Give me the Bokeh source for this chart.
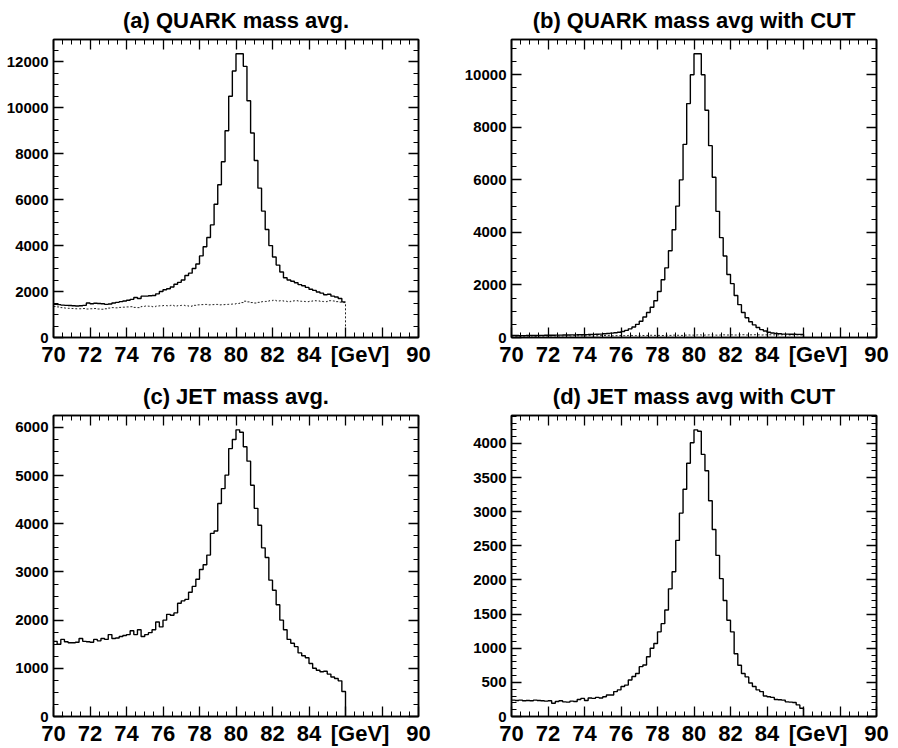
import numpy as np
from bokeh.plotting import figure
from bokeh.models import FixedTicker, LinearAxis, Range1d
from bokeh.layouts import gridplot
from bokeh.embed import file_html
from bokeh.resources import INLINE

# bin edges of the mass histograms [GeV]
mass_edges = np.linspace(70.0, 86.0, 81)

# (a) QUARK mass avg. (main) and its lower (background) curve
quark_avg = [1450, 1430, 1410, 1400, 1390, 1380, 1370, 1380, 1400, 1500,
             1470, 1490, 1480, 1470, 1440, 1460, 1500, 1530, 1560, 1590,
             1620, 1660, 1740, 1700, 1800, 1800, 1820, 1830, 1900, 2000,
             2080, 2120, 2200, 2320, 2400, 2500, 2700, 2800, 3000, 3200,
             3550, 3950, 4350, 4900, 5800, 6650, 7650, 9000, 10500, 11600,
             12350, 12350, 11800, 10300, 8900, 7700, 6500, 5500, 4700, 4000,
             3500, 3150, 2850, 2600, 2500, 2450, 2380, 2300, 2250, 2180,
             2100, 2050, 1980, 1930, 1860, 1880, 1800, 1760, 1700, 1550]
quark_avg_bkg = [1350, 1330, 1300, 1280, 1270, 1260, 1250, 1250, 1260, 1240,
                 1250, 1260, 1240, 1230, 1250, 1280, 1300, 1290, 1310, 1320,
                 1330, 1340, 1310, 1300, 1350, 1370, 1360, 1340, 1370, 1380,
                 1390, 1380, 1400, 1370, 1390, 1400, 1380, 1360, 1400, 1420,
                 1430, 1440, 1420, 1430, 1440, 1420, 1430, 1440, 1450, 1460,
                 1480, 1520, 1580, 1550, 1520, 1500, 1530, 1560, 1570, 1600,
                 1620, 1590, 1600, 1580, 1560, 1590, 1600, 1580, 1570, 1560,
                 1580, 1600, 1590, 1570, 1560, 1600, 1590, 1560, 1540, 1520]

# (b) QUARK mass avg with CUT
quark_cut = [80, 75, 70, 70, 75, 80, 75, 80, 80, 85,
             85, 85, 90, 90, 95, 95, 100, 100, 105, 105,
             110, 115, 120, 125, 130, 140, 150, 165, 180, 200,
             230, 270, 330, 400, 500, 620, 780, 950, 1150, 1400,
             1750, 2200, 2650, 3300, 4100, 5000, 6000, 7350, 8900, 10000,
             10800, 10800, 10000, 8650, 7300, 6100, 4800, 3800, 3100, 2400,
             2050, 1600, 1250, 950, 750, 600, 480, 380, 300, 250,
             200, 170, 150, 140, 130, 130, 125, 125, 120, 120]
quark_cut_bkg = [60, 55, 50, 55, 60, 55, 50, 60, 55, 60,
                 60, 65, 60, 55, 60, 65, 60, 70, 65, 60,
                 65, 70, 60, 65, 70, 75, 70, 65, 70, 75,
                 70, 75, 80, 75, 70, 80, 75, 80, 85, 80,
                 80, 75, 85, 80, 90, 85, 80, 90, 95, 90,
                 95, 100, 90, 95, 100, 95, 90, 95, 100, 95,
                 100, 95, 100, 105, 95, 100, 105, 100, 95, 100,
                 105, 100, 95, 100, 105, 100, 95, 100, 100, 95]

# (c) JET mass avg.
jet_avg = [1560, 1500, 1600, 1550, 1530, 1530, 1540, 1620, 1560, 1550,
           1540, 1600, 1570, 1620, 1600, 1700, 1620, 1630, 1660, 1680,
           1700, 1780, 1700, 1800, 1660, 1700, 1740, 1800, 1960, 1860,
           2000, 2120, 2100, 2150, 2350, 2400, 2430, 2580, 2700, 2850,
           3050, 3150, 3350, 3800, 3850, 4420, 4730, 5010, 5560, 5750,
           5950, 5900, 5600, 5300, 4800, 4320, 3970, 3500, 3300, 2830,
           2620, 2320, 2000, 1800, 1600, 1520, 1450, 1320, 1260, 1220,
           1100, 1000, 960, 930, 940, 880, 820, 790, 740, 520]

# (d) JET mass avg with CUT
jet_cut = [240, 235, 240, 230, 235, 230, 240, 235, 230, 225,
           230, 195, 220, 230, 215, 210, 225, 220, 250, 265,
           235, 270, 265, 280, 270, 290, 315, 316, 365, 390,
           440, 460, 535, 585, 630, 730, 755, 875, 1000, 1070,
           1240, 1360, 1560, 1870, 2120, 2580, 2980, 3330, 3710, 4010,
           4200, 4180, 3840, 3600, 3160, 2740, 2360, 2020, 1700, 1410,
           1240, 920, 750, 630, 580, 490, 440, 390, 365, 300,
           290, 280, 250, 245, 240, 215, 210, 205, 170, 120]

titles = ["(a) QUARK mass avg.", "(b) QUARK mass avg with CUT",
          "(c) JET mass avg.", "(d) JET mass avg with CUT"]
x_tick_marks = [70, 72, 74, 76, 78, 80, 82, 84, 86, 88, 90]
x_label_ticks = [70, 72, 74, 76, 78, 80, 82, 84, 86.8, 90]
x_label_overrides = {86.8: "[GeV]"}

FONT = "Liberation Sans"


def style_ticks(ax):
    ax.major_tick_in = 10
    ax.major_tick_out = 0
    ax.minor_tick_in = 5
    ax.minor_tick_out = 0
    ax.axis_line_color = "black"
    ax.axis_line_width = 1.5
    ax.major_tick_line_color = "black"
    ax.major_tick_line_width = 1.3
    ax.minor_tick_line_color = "black"
    ax.minor_tick_line_width = 1.0


def hide_labels(ax):
    ax.major_label_text_color = None
    ax.major_label_text_font_size = "0px"
    ax.major_label_standoff = 0


def style_labels(ax, font_size, standoff):
    ax.major_label_text_font = FONT
    ax.major_label_text_font_style = "bold"
    ax.major_label_text_color = "black"
    ax.major_label_text_font_size = font_size
    ax.major_label_standoff = standoff


def make_panel(title, main, y_step, y_minor, width, height, borders,
               bkg=None, main_drop=True):
    left, right, top, bottom = borders
    ymax = 1.05 * max(main)
    p = figure(width=width, height=height, output_backend="svg",
               toolbar_location=None, x_range=Range1d(70, 90),
               y_range=Range1d(0, ymax),
               min_border_left=left, min_border_right=right,
               min_border_top=top, min_border_bottom=bottom)
    p.title.text = title
    p.title.align = "center"
    p.title.vertical_align = "top"
    p.title.text_font = FONT
    p.title.text_font_style = "bold"
    p.title.text_font_size = "22px"
    p.title.text_color = "black"
    p.title.standoff = 10
    p.grid.visible = False
    p.outline_line_color = "black"
    p.outline_line_width = 1.5
    p.background_fill_color = "white"
    p.border_fill_color = "white"

    xt = FixedTicker(ticks=x_tick_marks,
                     minor_ticks=list(np.arange(70, 90.01, 0.5)))
    yt = FixedTicker(ticks=list(np.arange(0, ymax, y_step)),
                     minor_ticks=list(np.arange(0, ymax, y_minor)))

    # bottom: tick marks only (closest to frame)
    p.xaxis.ticker = xt
    style_ticks(p.xaxis[0])
    hide_labels(p.xaxis[0])
    # bottom: labels only
    lab_ax = LinearAxis(ticker=FixedTicker(ticks=x_label_ticks, minor_ticks=[]),
                        major_label_overrides=x_label_overrides)
    lab_ax.axis_line_color = None
    lab_ax.major_tick_line_color = None
    lab_ax.minor_tick_line_color = None
    lab_ax.major_tick_in = 0
    lab_ax.major_tick_out = 0
    style_labels(lab_ax, "22px", 4)
    p.add_layout(lab_ax, "below")

    p.yaxis.ticker = yt
    style_ticks(p.yaxis[0])
    style_labels(p.yaxis[0], "15px", 5)

    top_ax = LinearAxis(ticker=xt)
    style_ticks(top_ax)
    hide_labels(top_ax)
    p.add_layout(top_ax, "above")
    right_ax = LinearAxis(ticker=yt)
    style_ticks(right_ax)
    hide_labels(right_ax)
    p.add_layout(right_ax, "right")

    if bkg is not None:
        p.step(mass_edges, list(bkg) + [0], mode="after",
               line_color="#222222", line_width=1.0, line_dash="2 2")
    end = [0] if main_drop else [main[-1]]
    p.step(mass_edges, list(main) + end, mode="after",
           line_color="black", line_width=1.4)
    return p


pa = make_panel(titles[0], quark_avg, 2000, 500, 448, 370, (53, 30, 39, 32),
                bkg=quark_avg_bkg, main_drop=False)
pb = make_panel(titles[1], quark_cut, 2000, 500, 450, 370, (63, 22, 38, 33),
                bkg=quark_cut_bkg)
pc = make_panel(titles[2], jet_avg, 1000, 250, 448, 378, (53, 30, 45, 31))
pd = make_panel(titles[3], jet_cut, 500, 100, 450, 378, (63, 22, 45, 31))

grid = gridplot([[pa, pb], [pc, pd]], toolbar_location=None)
open("out.html", "w").write(file_html(grid, INLINE))
